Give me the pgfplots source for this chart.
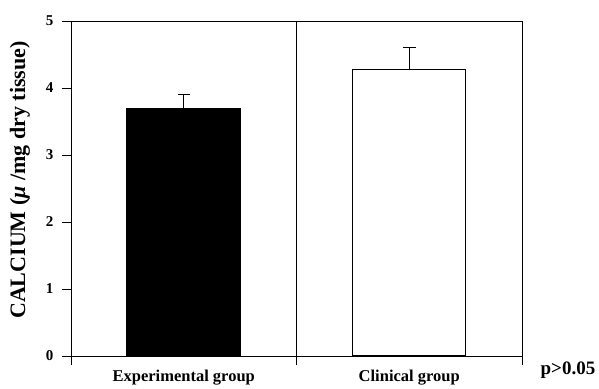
\documentclass[border=0pt]{standalone}
\usepackage{fontspec}
\setmainfont{Liberation Serif}
\usepackage{pgfplots}
\pgfplotsset{compat=1.18}
\newcommand{\yt}[1]{\fontsize{15}{15}\selectfont\bfseries #1}
\begin{document}
\begin{tikzpicture}[font=\bfseries]
\begin{axis}[
  scale only axis, width=451pt, height=335pt,
  xmin=0, xmax=2, ymin=0, ymax=5,
  axis line style={line width=0.9pt},
  every tick/.style={line width=0.9pt, black},
  tick align=outside, major tick length=9pt,
  tick pos=left,
  xtick={0,1,2}, xticklabels={},
  extra x ticks={0.5,1.5},
  extra x tick labels={Experimental group, Clinical group},
  extra x tick style={major tick length=0pt, tick label style={font=\fontsize{16.5}{16.5}\selectfont\bfseries, yshift=-11pt}},
  ytick={0,1,2,3,4,5},
  yticklabels={\yt{0},\yt{1},\yt{2},\yt{3},\yt{4},\yt{5}},
  y tick label style={xshift=-5pt},
  ylabel={CALCIUM (\textit{μ} /mg dry tissue)},
  ylabel style={font=\fontsize{22}{22}\selectfont\bfseries, at={(axis description cs:-0.113,0.525)}, anchor=center},
  clip=false,
]
\addplot[ybar, bar shift=0pt, bar width=114pt, fill=black, draw=black, line width=1pt,
  error bars/.cd, y dir=plus, y explicit,
  error bar style={line width=0.8pt, black},
  error mark options={rotate=90, mark size=6pt, line width=0.8pt, black}]
  coordinates {(0.5,3.7) +- (0,0.2)};
\addplot[ybar, bar shift=0pt, bar width=113pt, fill=white, draw=black, line width=1.2pt,
  error bars/.cd, y dir=plus, y explicit,
  error bar style={line width=1.2pt, black},
  error mark options={rotate=90, mark size=6.5pt, line width=1.2pt, black}]
  coordinates {(1.5,4.28) +- (0,0.32)};
\draw[line width=0.9pt] (axis cs:1,0) -- (axis cs:1,5);
\node[font=\fontsize{19}{19}\selectfont\bfseries, anchor=center] at ([xshift=46pt, yshift=-14pt]rel axis cs:1,0) {p>0.05};
\coordinate (O) at (rel axis cs:0,0);
\end{axis}
\path (O) ++(-71pt,-31pt) rectangle ++(599pt,387pt);
\end{tikzpicture}
\end{document}
